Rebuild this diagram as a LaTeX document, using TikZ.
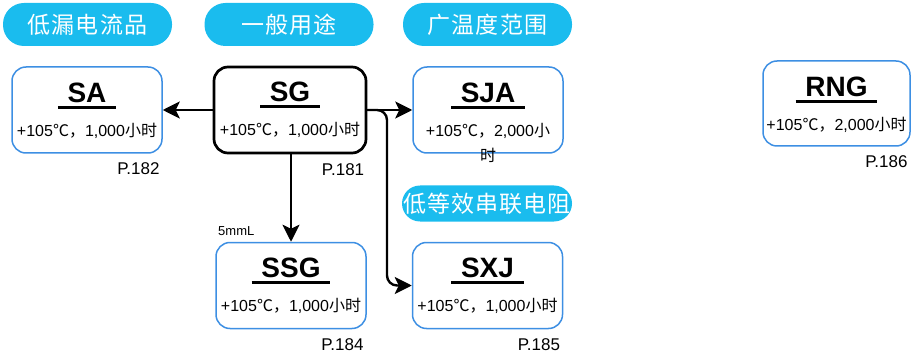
\documentclass[tikz,border=0pt]{standalone}
\usepackage{fontspec}
\setmainfont{Liberation Sans}
\newfontfamily\cjk{Noto Sans CJK SC}
\newfontfamily\cjkp[LetterSpace=5]{Noto Sans CJK SC}
\usetikzlibrary{arrows.meta,calc}
\definecolor{pillc}{HTML}{1ABCEE}
\definecolor{boxc}{HTML}{3D8FE3}
\tikzset{
  pill/.style={fill=pillc, rounded corners=21pt, minimum width=169pt, minimum height=43pt, text=white, font=\cjkp\fontsize{23}{25}\selectfont, inner sep=0pt},
  box/.style={draw=boxc, line width=1.5pt, rounded corners=14pt, minimum width=150pt, minimum height=86pt, fill=white, inner sep=0pt},
  mainbox/.style={draw=black, line width=2.7pt, minimum width=152pt},
  ttl/.style={anchor=base, inner sep=0pt, font=\bfseries\fontsize{28}{30}\selectfont},
  sub/.style={anchor=base, inner sep=0pt, font=\fontsize{16}{18}\selectfont},
  pg/.style={anchor=base east, inner sep=0pt, font=\fontsize{17}{19}\selectfont},
  arr/.style={line width=2.4pt, -{Stealth[length=17pt,width=17pt,inset=4pt]}},
}
\newcommand\prodbox[6]{%
  \node[box,#3] (#1) at (#2) {};
  \node[ttl] (#1-t) at ($(#1.north)+(0,36)$) {#4};
  \draw[line width=2.7pt] ([xshift=-9.5pt,yshift=-5pt]#1-t.base west) -- ([xshift=9.5pt,yshift=-5pt]#1-t.base east);
  \node[sub] (#1-s) at ($(#1.north)+(0,70)$) {#5};
  \node[pg] (#1-p) at ($(#1.south east)+(-3,21)$) {#6};
}
\begin{document}
\begin{tikzpicture}[x=1pt,y=-1pt]
\useasboundingbox (0,0) rectangle (912,358);
% pills
\node[pill] (p1) at (87.5,24.5) {低漏电流品};
\node[pill] (p2) at (289,24.5) {一般用途};
\node[pill] (p3) at (487.5,24.5) {广温度范围};
\node[pill, minimum height=36pt, minimum width=170pt, rounded corners=18pt] (p4) at (487,203.5) {低等效串联电阻};
% boxes
\prodbox{SA}{87,110}{}{SA}{+105{\cjk ℃，}1,000{\cjk 小时}}{P.182}
\prodbox{SG}{290,110}{mainbox}{SG}{+105{\cjk ℃，}1,000{\cjk 小时}}{P.181}
\prodbox{SJA}{488,110}{}{SJA}{+105{\cjk ℃，}2,000{\cjk 小}}{}
\node[sub] (SJA-s2) at ($(SJA-s.base)+(0,25)$) {\cjk 时};
\prodbox{SSG}{291,285.5}{}{SSG}{+105{\cjk ℃，}1,000{\cjk 小时}}{P.184}
\prodbox{SXJ}{487.5,285.5}{}{SXJ}{+105{\cjk ℃，}1,000{\cjk 小时}}{P.185}
\prodbox{RNG}{836.5,103.5}{minimum width=147pt, minimum height=85pt}{RNG}{+105{\cjk ℃，}2,000{\cjk 小时}}{P.186}
\node[anchor=base west, inner sep=0pt, font=\fontsize{13}{15}\selectfont] (lbl) at (218,235) {5mmL};
% connectors
\coordinate (br) at (387,110);
\draw[arr] (SG.west) -- (SA.east);
\draw[arr] (SG.south -| SSG.north) -- (SSG.north);
\draw[arr] (SG.east) -- (SJA.west);
\draw[arr, rounded corners=10pt] (SG.east) -- (br) -- (br |- SXJ.west) -- (SXJ.west);
\end{tikzpicture}
\end{document}
